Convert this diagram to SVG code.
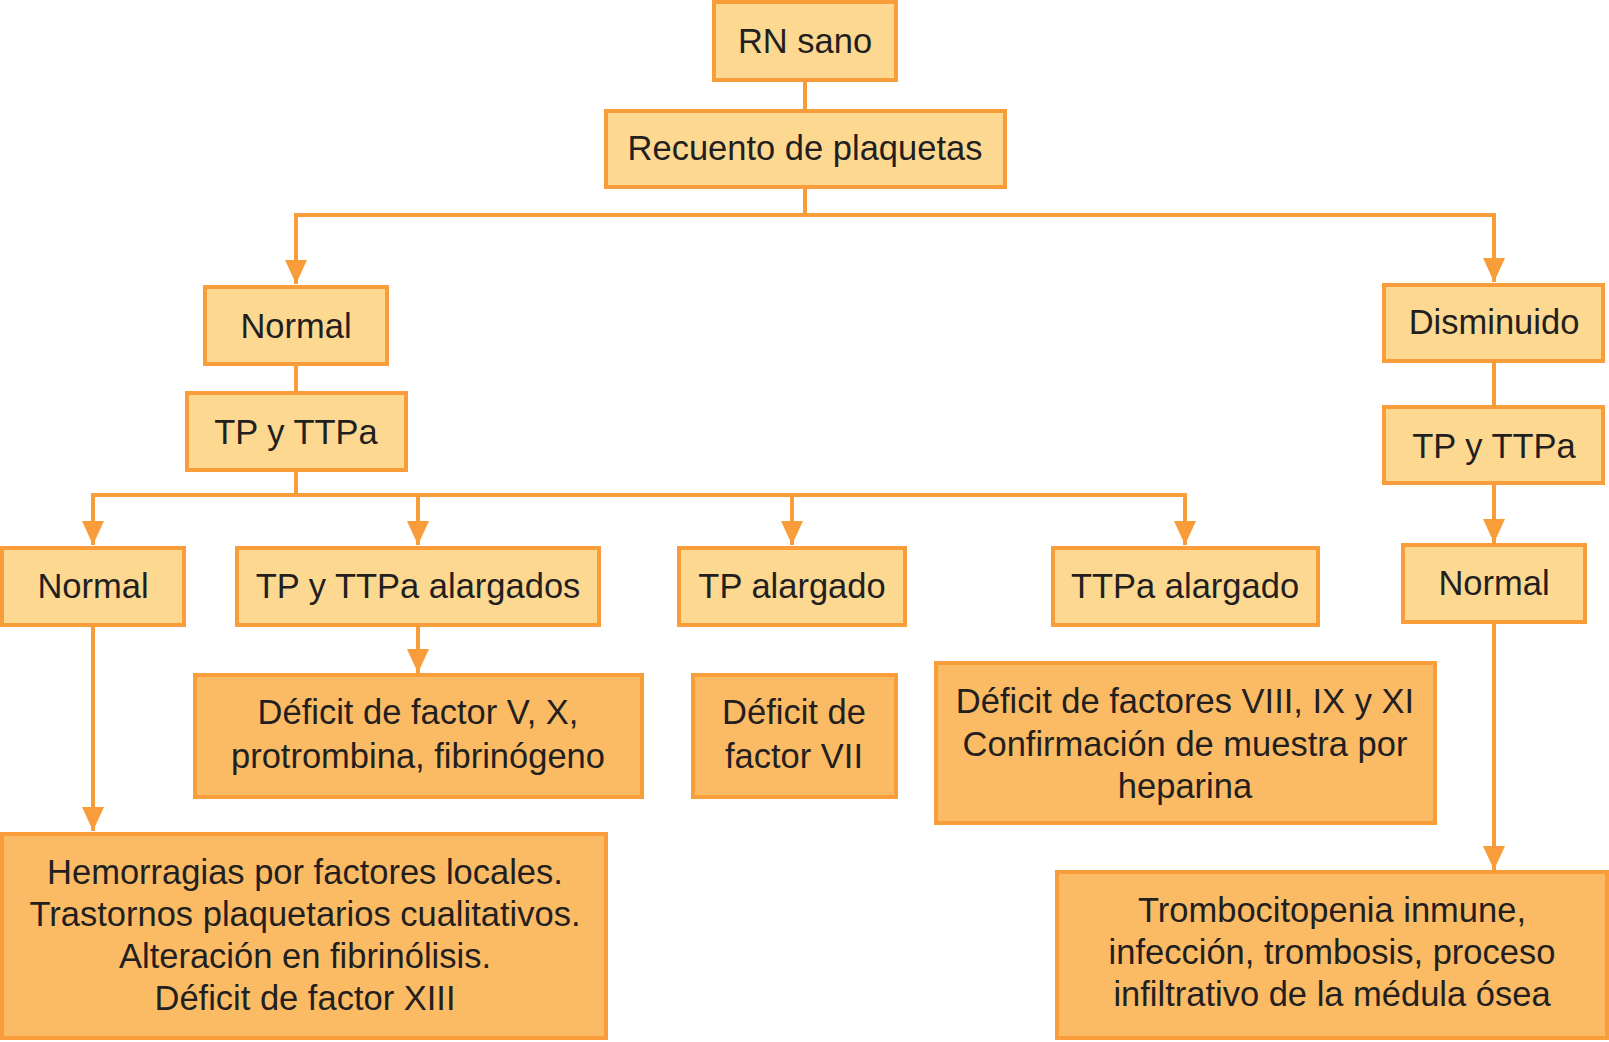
<svg xmlns="http://www.w3.org/2000/svg" width="1609" height="1042" viewBox="0 0 1609 1042">
<style>
.l rect{fill:#FDD891;stroke:#F89D3A;stroke-width:4}
.d rect{fill:#FBBB64;stroke:#F89D3A;stroke-width:4}
text{font-family:"Liberation Sans","DejaVu Sans",sans-serif;font-size:34.5px;fill:#231F20;text-anchor:middle}
#connectors path{fill:none;stroke:#F89D3A;stroke-width:4}
</style>
<defs>
<marker id="ah" markerUnits="userSpaceOnUse" markerWidth="24" markerHeight="24" refX="24" refY="11" orient="auto" viewBox="0 0 24 22">
<path d="M0,0 L24,11 L0,22 Z" fill="#F89D3A"/>
</marker>
</defs>
<rect width="1609" height="1042" fill="#FFFFFF"/>
<g id="connectors">
<path d="M805,80 V111"/>
<path d="M805,187 V215 H296 V284" marker-end="url(#ah)"/>
<path d="M805,215 H1494 V282" marker-end="url(#ah)"/>
<path d="M296,364 V393"/>
<path d="M296,470 V495 H93 V545" marker-end="url(#ah)"/>
<path d="M296,495 H418 V545" marker-end="url(#ah)"/>
<path d="M418,495 H792 V545" marker-end="url(#ah)"/>
<path d="M792,495 H1185 V545" marker-end="url(#ah)"/>
<path d="M418,625 V673" marker-end="url(#ah)"/>
<path d="M93,625 V831" marker-end="url(#ah)"/>
<path d="M1494,361 V407"/>
<path d="M1494,483 V543" marker-end="url(#ah)"/>
<path d="M1494,622 V870" marker-end="url(#ah)"/>
</g>
<g id="n-rn" class="l"><rect x="714" y="2" width="182" height="78"/><text x="805" y="53">RN sano</text></g>
<g id="n-recuento" class="l"><rect x="606" y="111" width="399" height="76"/><text x="805" y="160">Recuento de plaquetas</text></g>
<g id="n-normal1" class="l"><rect x="205" y="287" width="182" height="77"/><text x="296" y="338">Normal</text></g>
<g id="n-tp1" class="l"><rect x="187" y="393" width="219" height="77"/><text x="296" y="444">TP y TTPa</text></g>
<g id="n-normal2" class="l"><rect x="2" y="548" width="182" height="77"/><text x="93" y="598">Normal</text></g>
<g id="n-tpalarg" class="l"><rect x="237" y="548" width="362" height="77"/><text x="418" y="598">TP y TTPa alargados</text></g>
<g id="n-tpalargado" class="l"><rect x="679" y="548" width="226" height="77"/><text x="792" y="598">TP alargado</text></g>
<g id="n-ttpa" class="l"><rect x="1053" y="548" width="265" height="77"/><text x="1185" y="598">TTPa alargado</text></g>
<g id="n-defv" class="d"><rect x="195" y="675" width="447" height="122"/><text x="418" y="724">Déficit de factor V, X,</text><text x="418" y="768">protrombina, fibrinógeno</text></g>
<g id="n-defvii" class="d"><rect x="693" y="675" width="203" height="122"/><text x="794" y="724">Déficit de</text><text x="794" y="768">factor VII</text></g>
<g id="n-defviii" class="d"><rect x="936" y="663" width="499" height="160"/><text x="1185" y="713">Déficit de factores VIII, IX y XI</text><text x="1185" y="756">Confirmación de muestra por</text><text x="1185" y="798">heparina</text></g>
<g id="n-hemo" class="d"><rect x="2" y="834" width="604" height="204"/><text x="305" y="884">Hemorragias por factores locales.</text><text x="305" y="926">Trastornos plaquetarios cualitativos.</text><text x="305" y="968">Alteración en fibrinólisis.</text><text x="305" y="1010">Déficit de factor XIII</text></g>
<g id="n-dism" class="l"><rect x="1384" y="285" width="219" height="76"/><text x="1494" y="334">Disminuido</text></g>
<g id="n-tp2" class="l"><rect x="1384" y="407" width="219" height="76"/><text x="1494" y="458">TP y TTPa</text></g>
<g id="n-normal3" class="l"><rect x="1403" y="545" width="182" height="77"/><text x="1494" y="595">Normal</text></g>
<g id="n-trombo" class="d"><rect x="1057" y="872" width="550" height="166"/><text x="1332" y="922">Trombocitopenia inmune,</text><text x="1332" y="964">infección, trombosis, proceso</text><text x="1332" y="1006">infiltrativo de la médula ósea</text></g>
</svg>
